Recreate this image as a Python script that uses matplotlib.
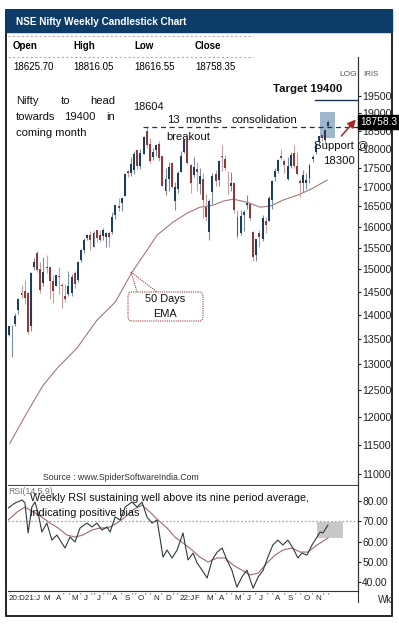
import numpy as np
import matplotlib
matplotlib.use("Agg")
import matplotlib.pyplot as plt
from matplotlib import font_manager
from matplotlib.patches import Rectangle, FancyBboxPatch
from matplotlib.lines import Line2D
from matplotlib.ticker import NullLocator

# weekly candles, week ending 18 Dec 2020 .. week of 28 Nov 2022
opens = [13571, 13741, 13815, 14104, 14474, 14522, 14477, 13758, 15064, 15371,
         14999, 14702, 15064, 15048, 14736, 14628, 14837, 14644, 14407, 14449,
         14481, 14928, 14756, 15211, 15437, 15725, 15791, 15525, 15915, 15794,
         15766, 15755, 15842, 15874, 16287, 16520, 16592, 16765, 17411, 17364,
         17443, 17962, 17532, 17867, 18500, 18131, 17783, 17967, 18141, 17796,
         16877, 17209, 17619, 16624, 16937, 17387, 17913, 18235, 17575, 17301,
         17457, 17077, 17193, 16481, 15867, 16871, 17329, 17182, 17810, 17740,
         17183, 17008, 17096, 16227, 15845, 16290, 16529, 16570, 15877, 15335,
         15840, 15710, 16151, 16151, 16662, 17244, 17402, 17797, 17682, 17188,
         17546, 17891, 17540, 17156, 17102, 17094, 17236, 17736, 17910, 18211,
         18376, 18247, 18625.70]
highs = [13773, 13777, 14050, 14367, 14653, 14753, 14491, 14932, 15257, 15432,
         15176, 15274, 15336, 15052, 14878, 14876, 15044, 14697, 14668, 14967,
         14890, 14967, 15190, 15469, 15733, 15823, 15901, 15895, 15915, 15915,
         15962, 15882, 15890, 16350, 16544, 16701, 16722, 17341, 17436, 17792,
         17948, 17962, 18000, 18350, 18604, 18310, 18022, 18123, 18210, 17806,
         17490, 17639, 17640, 17118, 17400, 17944, 18286, 18351, 17599, 17794,
         17640, 17491, 17352, 16815, 16694, 17344, 17442, 17703, 18114, 17842,
         17414, 17379, 17132, 16404, 16400, 16415, 16794, 16610, 15886, 15707,
         15928, 16275, 16248, 16752, 17173, 17490, 17719, 17992, 17726, 17777,
         17925, 18096, 17919, 17187, 17429, 17348, 17607, 17838, 18176, 18362,
         18442, 18534, 18816.05]
lows = [13559, 13131, 13774, 14021, 14357, 14222, 13597, 13662, 14978, 14936,
        14468, 14636, 14919, 14350, 14264, 14617, 14459, 14151, 14273, 14416,
        14416, 14592, 14725, 15171, 15374, 15679, 15451, 15505, 15636, 15632,
        15678, 15514, 15514, 15835, 16177, 16395, 16395, 16765, 17255, 17269,
        17327, 17453, 17452, 17864, 18034, 17613, 17697, 17806, 17688, 17026,
        16782, 16891, 16967, 16410, 16834, 17384, 17880, 17590, 16836, 17244,
        16889, 16810, 16203, 16133, 15671, 16556, 17006, 17006, 17422, 17442,
        16825, 16889, 16340, 15735, 15789, 15903, 16444, 16172, 15183, 15191,
        15512, 15661, 15858, 16143, 16438, 17154, 17360, 17710, 17345, 17167,
        17476, 17497, 17291, 16748, 16855, 16950, 17098, 17637, 17860, 18103,
        18209, 18133, 18616.55]
closes = [13761, 13749, 13982, 14347, 14433, 14372, 13635, 14924, 15163, 14982,
          14529, 14938, 15031, 14744, 14507, 14867, 14834, 14617, 14341, 14631,
          14823, 14678, 15175, 15436, 15670, 15799, 15683, 15860, 15722, 15690,
          15924, 15856, 15763, 16238, 16529, 16451, 16705, 17324, 17369, 17585,
          17853, 17532, 17895, 18339, 18115, 17672, 17917, 18103, 17765, 17026,
          17197, 17512, 16985, 17004, 17354, 17812, 18256, 17617, 17102, 17516,
          17375, 17277, 16658, 16246, 16630, 17287, 17153, 17670, 17784, 17476,
          17172, 17103, 16411, 15782, 16266, 16352, 16584, 16202, 15294, 15699,
          15752, 16221, 16049, 16719, 17158, 17398, 17698, 17758, 17559, 17539,
          17833, 17531, 17327, 17094, 17315, 17186, 17576, 17787, 18117, 18350,
          18308, 18513, 18758.35]

# 50 EMA (week index, value)
ema_week = [0.3, 5.8, 10.9, 15.7, 21.7, 28.1, 33.9, 39.3, 44.1, 47.3, 52.4,
            56.9, 61.0, 65.2, 68.4, 71.6, 76.0, 80.2, 83.4, 87.5, 93.0, 97.1, 101.6]
ema_val = [11527, 12080, 12585, 12934, 13312, 13888, 14272, 14935, 15442, 15797,
           16111, 16331, 16481, 16530, 16632, 16682, 16606, 16481, 16506, 16657,
           16809, 16963, 17170]

# weekly RSI and its 9 period average
rsi_week = [-0.3, 1.9, 4.2, 5.1, 6.1, 7.3, 8.3, 9.3, 10.5, 12.1, 13.7, 15.3, 17.9,
            19.5, 21.1, 22.7, 24.9, 26.5, 28.1, 29.7, 31.3, 32.3, 33.9, 35.5, 37.1,
            39.3, 40.9, 42.5, 44.1, 45.7, 47.3, 48.2, 49.2, 50.5, 52.1, 53.7, 55.6,
            57.2, 58.8, 60.1, 61.7, 63.3, 64.9, 66.5, 68.1, 69.6, 71.2, 72.8, 74.4,
            76.0, 78.0, 79.6, 81.2, 82.7, 84.3, 85.9, 87.5, 89.1, 90.7, 92.3, 93.6,
            95.2, 96.8, 98.4, 99.4, 100.3, 101.9]
rsi_val = [76.5, 79.0, 80.5, 79.0, 64.2, 77.0, 79.5, 74.1, 64.7, 69.1, 60.7, 63.2,
           56.8, 62.2, 59.8, 66.7, 69.1, 67.2, 69.1, 65.7, 67.2, 64.7, 72.1, 70.6,
           77.0, 79.5, 77.0, 79.5, 72.1, 69.1, 70.6, 62.2, 52.3, 55.8, 51.9, 55.8,
           64.2, 50.9, 54.3, 49.4, 45.9, 42.0, 50.9, 54.8, 56.8, 50.9, 45.9, 37.5,
           42.5, 45.9, 37.0, 42.5, 45.9, 52.3, 58.3, 60.7, 58.3, 60.7, 56.8, 51.9,
           54.3, 53.3, 58.3, 62.2, 64.7, 64.2, 68.1]
avg_week = [-0.3, 2.6, 5.1, 7.7, 10.5, 13.1, 15.7, 18.5, 21.1, 23.6, 26.5, 29.1,
            31.6, 34.5, 37.1, 39.6, 42.5, 45.0, 47.6, 50.5, 53.0, 55.6, 58.5, 61.0,
            63.6, 66.5, 69.0, 71.6, 74.4, 77.0, 79.6, 82.4, 85.0, 87.5, 90.4, 93.0,
            95.5, 98.4, 101.9]
avg_val = [70.6, 74.6, 77.0, 74.6, 72.1, 69.1, 66.7, 63.2, 62.2, 63.2, 65.7, 66.7,
           66.7, 69.1, 72.1, 75.6, 78.0, 74.6, 70.6, 66.7, 62.2, 59.3, 55.8, 52.3,
           49.9, 51.9, 51.9, 48.4, 45.9, 43.5, 44.4, 49.4, 53.3, 55.8, 56.8, 54.8,
           54.8, 58.3, 61.7]

price_ticks = [11000, 11500, 12000, 12500, 13000, 13500, 14000, 14500, 15000,
               15500, 16000, 16500, 17000, 17500, 18000, 18500, 19000, 19500]
rsi_ticks = [40, 50, 60, 70, 80]

month_labels = ["M", "A", "M", "J", "J", "A", "S", "O", "N", "D",
                "22:J", "F", "M", "A", "M", "J", "J", "A", "S", "O", "N"]
month_week = [11, 15, 20, 24, 28, 33, 37, 41, 46, 50,
              54.6, 59.2, 63, 67, 72, 76, 80, 85, 89, 94, 98]
month_marks = [0, 2, 1, 2, 3, 1, 2, 2, 1, 2, 0, 0, 1, 2, 1, 1, 2, 1, 2, 1, 2]

ohlc_names = ["Open", "High", "Low", "Close"]
ohlc_values = ["18625.70", "18816.05", "18616.55", "18758.35"]

W, H = 399, 625
NAVY = "#0d3c69"
UP, DOWN = "#1c3d5c", "#8c3a3a"
UP_WICK, DOWN_WICK = "#7d8c9c", "#c4a0a0"

plt.rcParams['font.family'] = ['Liberation Sans', 'DejaVu Sans']
names = {f.name for f in font_manager.fontManager.ttflist}
HAS_NARROW = 'Liberation Sans Narrow' in names


def nf(size, **kw):
    # narrow font like the original, fallback to squeezed size
    if HAS_NARROW:
        return dict(family=['Liberation Sans Narrow', 'DejaVu Sans'], fontsize=size, **kw)
    return dict(fontsize=size * 0.84, **kw)


def box(x0, y0, x1, y1):
    return [x0 / W, 1 - y1 / H, (x1 - x0) / W, (y1 - y0) / H]


def ftext(x, y, s, **kw):
    kw.setdefault('va', 'center')
    return fig.text(x / W, 1 - y / H, s, **kw)


def fline(xs, ys, **kw):
    fig.add_artist(Line2D([v / W for v in xs], [1 - v / H for v in ys], **kw))


fig = plt.figure(figsize=(W / 100, H / 100), dpi=100)
fig.patch.set_facecolor("white")

# frame and header
fig.add_artist(Rectangle((6 / W, 1 - 616 / H), 386 / W, 606 / H, fill=False,
                         ec="black", lw=1.2))
fig.add_artist(Rectangle((6 / W, 1 - 32 / H), 386 / W, 22 / H, fc=NAVY, ec=NAVY))
ftext(16, 22, "NSE Nifty Weekly Candlestick Chart", color="white", **nf(8.6, weight="bold"))
fline([8, 253], [36, 36], color="#b0b0b0", lw=0.8, ls=(0, (2, 2)))
fline([8, 253], [57, 57], color="#b0b0b0", lw=0.8, ls=(0, (2, 2)))
for i, (n, v) in enumerate(zip(ohlc_names, ohlc_values)):
    ftext(13 + 60.7 * i, 46, n, color="black", **nf(8.4, weight="bold"))
    ftext(13 + 60.7 * i, 67, v, color="black", **nf(8.4))

x = np.arange(len(closes))
o, h, l, c = map(np.array, (opens, highs, lows, closes))
up = c >= o
xlim = ((8 - 9) / 3.13, (358 - 9) / 3.13)

# price panel
ax = fig.add_axes(box(8, 57, 358, 485))
ax.set_yscale('log')
ax.set_xlim(*xlim)
ax.set_ylim(10820, 20690)
ax.add_patch(Rectangle((99.4, 18298), 4.8, 735, fc="#9fb7cd", ec="none", zorder=0.5))
ax.vlines(x, l, h, colors=np.where(up, UP_WICK, DOWN_WICK), lw=0.8, zorder=2)
ax.bar(x, np.maximum(np.abs(c - o), 10), bottom=np.minimum(o, c), width=0.62,
       color=np.where(up, UP, DOWN), lw=0, zorder=3)
ax.plot(ema_week, ema_val, color="#a07a78", lw=0.8, zorder=1.5)
ax.plot([42.8, xlim[1]], [18604, 18604], color="#1e3550", lw=0.9, ls=(0, (4, 3)), zorder=4)
ax.plot([97.8, xlim[1]], [19400, 19400], color="#1e3550", lw=1.0, zorder=4)
ax.annotate("", xy=(111.4, 18880), xytext=(105.6, 18300),
            arrowprops=dict(arrowstyle="-|>", color="#a32525", lw=1.1,
                            mutation_scale=12), annotation_clip=False, zorder=5)
ax.yaxis.tick_right()
ax.set_yticks(price_ticks)
ax.set_yticklabels([str(t) for t in price_ticks])
ax.yaxis.set_minor_locator(NullLocator())
ax.tick_params(axis='y', labelsize=7.7, length=2, pad=1, colors="#222222")
ax.set_xticks([])
for s in ("top", "left"):
    ax.spines[s].set_visible(False)
ax.spines["right"].set_color("#333333")
ax.spines["bottom"].set_color("#444444")

# RSI panel
rx = fig.add_axes(box(8, 486, 358, 591))
rx.set_xlim(*xlim)
rx.set_ylim(35.6, 87.4)
rx.add_patch(Rectangle((98.4, 61.7), 8.3, 7.9, fc="#c8c8c8", ec="none", zorder=0.5))
rx.axhline(70, color="#9fb09f", lw=0.9, ls=(0, (1.5, 1.5)), zorder=1)
rx.plot(avg_week, avg_val, color="#9c6c6a", lw=0.8, zorder=2)
rx.plot(rsi_week, rsi_val, color="#2e3a3e", lw=0.8, zorder=3)
rx.yaxis.tick_right()
rx.set_yticks(rsi_ticks)
rx.set_yticklabels([f"{t:.2f}" for t in rsi_ticks])
rx.tick_params(axis='y', labelsize=7.4, length=2, pad=1, colors="#222222")
rx.set_xticks([])
for s in ("top", "left"):
    rx.spines[s].set_visible(False)
rx.spines["right"].set_color("#333333")
rx.spines["bottom"].set_color("#333333")
fline([358, 358], [57, 602], color="#333333", lw=0.8)

# time axis labels
tick_kw = dict(color="#222222", **nf(6.9))
ftext(9, 598, "20:D21:J", **tick_kw)
for lab, wk in zip(month_labels, month_week):
    ftext(9 + 3.13 * wk, 598, lab, **tick_kw)
for i, (lab, wk, n) in enumerate(zip(month_labels, month_week, month_marks)):
    if n == 0:
        continue
    start = 9 + 3.13 * wk + 4.5 * len(lab) + 1
    end = 9 + 3.13 * (month_week[i + 1] if i + 1 < len(month_week) else 103)
    for k in range(n):
        ftext(start + (end - start) * (k + 0.5) / n - 1, 596, "'", **tick_kw)
ftext(378, 600, "Wkl", color="#222222", fontsize=7)

# annotations
txt = dict(color="#111111")
ftext(16, 101, "Nifty", **nf(9.6), **txt)
ftext(61, 101, "to", **nf(9.6), **txt)
ftext(115, 101, "head", ha="right", **nf(9.6), **txt)
ftext(16, 117, "towards", **nf(9.6), **txt)
ftext(64, 117, "19400", **nf(9.6), **txt)
ftext(115, 117, "in", ha="right", **nf(9.6), **txt)
ftext(16, 133, "coming month", **nf(9.6), **txt)
ftext(133, 107, "18604", **nf(9.4), **txt)
ftext(167, 120, "13", **nf(9.6), **txt)
ftext(185, 120, "months", **nf(9.6), **txt)
ftext(231, 120, "consolidation", **nf(9.6), **txt)
ftext(166, 137, "breakout", **nf(9.6), **txt)
ftext(273, 89, "Target 19400", **nf(9.8, weight="bold"), **txt)
ftext(314, 146, "Support @", **nf(9.8), **txt)
ftext(323, 161, "18300", **nf(9.8), **txt)
ftext(339, 74, "LOG", color="#555555", fontsize=6.0)
ftext(363, 74, "IRIS", color="#555555", **nf(6.8))
ftext(360, 122, "18758.3", color="white", fontsize=7.4,
      bbox=dict(boxstyle="square,pad=0.15", fc="black", ec="black"))

# 50 EMA callout
fig.add_artist(FancyBboxPatch((128 / W, 1 - 321 / H), 75 / W, 29 / H,
                              boxstyle="round,pad=0,rounding_size=0.008",
                              fill=False, ec="#a03a3a", lw=0.8, ls=(0, (1, 1))))
fline([131, 137], [272, 292], color="#a03a3a", lw=0.8, ls=(0, (1, 1)))
fline([131, 157], [272, 292], color="#a03a3a", lw=0.8, ls=(0, (1, 1)))
ftext(165.5, 299, "50 Days", ha="center", **nf(9.4), **txt)
ftext(165.5, 314, "EMA", ha="center", **nf(9.4), **txt)

ftext(43, 478, "Source : www.SpiderSoftwareIndia.Com", color="#333333", fontsize=6.3)
ftext(8, 492, "RSI(14,5,9)", color="#777777", fontsize=6.3)
ftext(30, 498, "Weekly RSI sustaining well above its nine period average,", **nf(9.2), **txt)
ftext(30, 513, "indicating positive bias", **nf(9.2), **txt)

fig.savefig("out.png", dpi=100, facecolor="white")
